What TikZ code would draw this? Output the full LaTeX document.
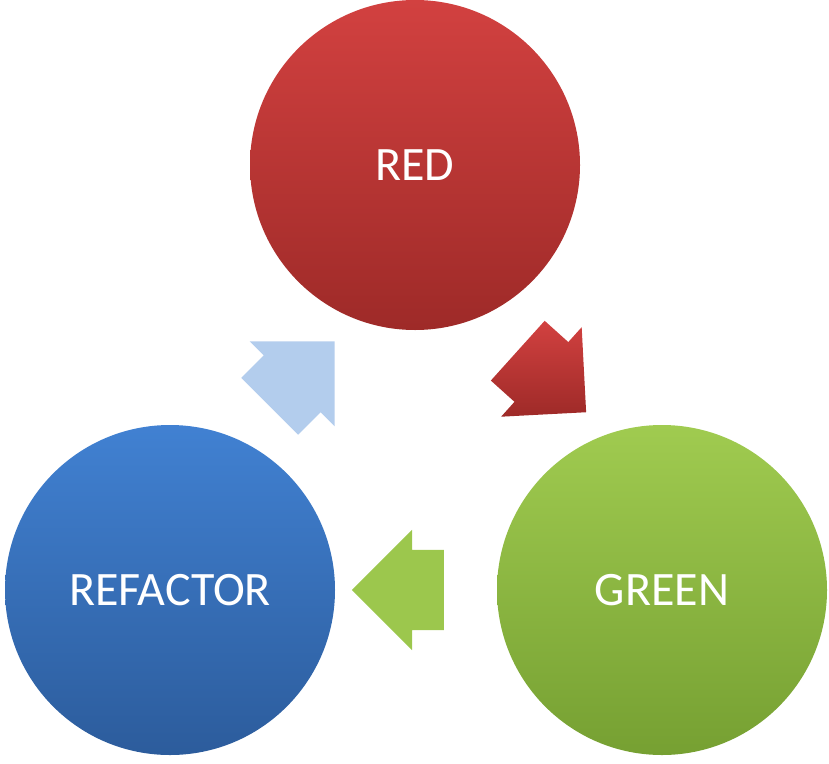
\documentclass[tikz,border=0pt]{standalone}
\usepackage{fontspec}
\setmainfont{Carlito}
\usetikzlibrary{shapes.arrows}
\definecolor{redtop}{HTML}{D24140}
\definecolor{redbot}{HTML}{9E2A28}
\definecolor{greentop}{HTML}{A0CB50}
\definecolor{greenbot}{HTML}{76A032}
\definecolor{bluetop}{HTML}{4181D2}
\definecolor{bluebot}{HTML}{2C5C9C}
\tikzset{
    phase/.style={circle, minimum size=330pt, inner sep=0pt, text=white,
        font=\fontsize{48}{52}\selectfont},
    turn/.style={single arrow, minimum height=92pt, inner xsep=0pt, inner ysep=40pt,
        single arrow head extend=20pt, single arrow head indent=0pt}
}
\begin{document}
\begin{tikzpicture}[x=1pt, y=1pt]
\useasboundingbox (0,0) rectangle (829,-763);
\node[phase, top color=redtop, bottom color=redbot] (red) at (415,-165) {RED};
\node[phase, top color=greentop, bottom color=greenbot] (green) at (662,-590) {GREEN};
\node[phase, top color=bluetop, bottom color=bluebot] (refactor) at (170,-590) {REFACTOR};

\node[turn, rotate=-42, top color=redtop, bottom color=redbot] (redgreen) at (537,-368) {};
\node[turn, rotate=180, fill=greentop!90!greenbot] (greenref) at (418,-590) {};
\node[turn, rotate=45, fill=bluetop!40] (refred) at (288,-388) {};
\end{tikzpicture}
\end{document}
